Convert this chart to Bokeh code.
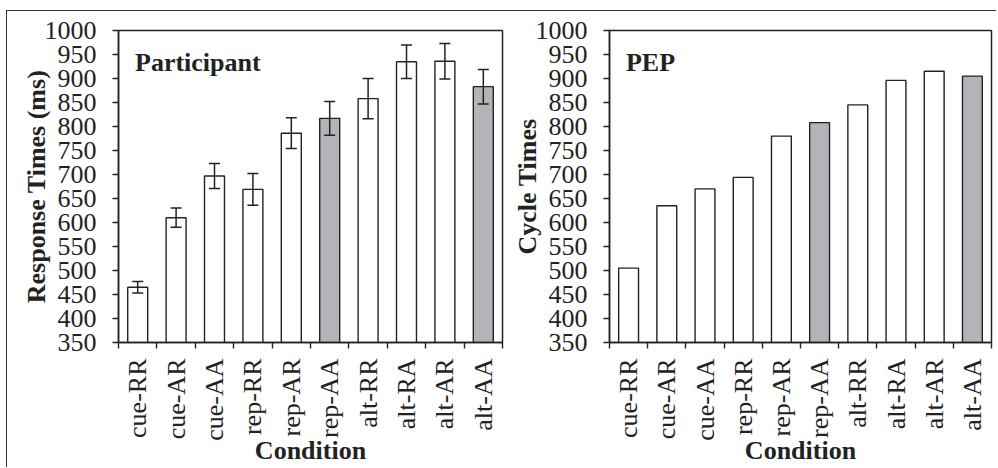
import math
from bokeh.plotting import figure
from bokeh.models import ColumnDataSource, FixedTicker, Whisker, TeeHead, Label, Range1d
from bokeh.layouts import row
from bokeh.embed import file_html
from bokeh.resources import INLINE

categories = ["cue-RR", "cue-AR", "cue-AA", "rep-RR", "rep-AR",
              "rep-AA", "alt-RR", "alt-RA", "alt-AR", "alt-AA"]
participant_rt = [465, 610, 697, 669, 786, 817, 858, 935, 936, 883]
participant_err = [12, 20, 26, 33, 32, 35, 42, 35, 37, 36]
pep_ct = [505, 635, 670, 694, 780, 808, 845, 896, 915, 905]
highlight = ["rep-AA", "alt-AA"]
y_ticks = [350, 400, 450, 500, 550, 600, 650, 700, 750, 800, 850, 900, 950, 1000]

FONT = "Liberation Serif"
INK = "#222222"
GRAY = "#b3b4b7"
FRAME_H = 312
FIG_H = 456
TOP = 19


def make_panel(title, ylabel, values, errs, min_left, min_right):
    n = len(categories)
    xs = [i + 0.5 for i in range(n)]
    colors = [GRAY if c in highlight else "white" for c in categories]
    data = dict(x=xs, top=values, color=colors)
    if errs is not None:
        data["upper"] = [v + e for v, e in zip(values, errs)]
        data["lower"] = [v - e for v, e in zip(values, errs)]
    src = ColumnDataSource(data)

    p = figure(width=min_left + 384 + min_right, height=FIG_H,
               x_range=Range1d(0, n), y_range=Range1d(y_ticks[0], y_ticks[-1]),
               output_backend="svg", toolbar_location=None,
               min_border_left=min_left, min_border_right=min_right,
               min_border_top=TOP, min_border_bottom=FIG_H - TOP - FRAME_H)
    p.xgrid.visible = False
    p.ygrid.visible = False
    p.outline_line_color = INK
    p.outline_line_width = 1.5
    p.background_fill_color = "white"
    p.border_fill_color = "white"

    p.vbar(x="x", top="top", bottom=0, width=0.52, fill_color="color",
           line_color=INK, line_width=1.4, source=src)

    if errs is not None:
        w = Whisker(base="x", upper="upper", lower="lower", source=src,
                    line_color=INK, line_width=1.5, level="annotation",
                    upper_head=TeeHead(size=11, line_color=INK, line_width=1.5),
                    lower_head=TeeHead(size=11, line_color=INK, line_width=1.5))
        p.add_layout(w)

    xa = p.xaxis[0]
    xa.ticker = FixedTicker(ticks=xs, minor_ticks=list(range(n + 1)))
    xa.major_label_overrides = {x: c for x, c in zip(xs, categories)}
    xa.major_label_orientation = math.pi / 2
    xa.major_tick_line_color = None
    xa.major_tick_out = 6
    xa.major_tick_in = 0
    xa.minor_tick_out = 6
    xa.minor_tick_in = 0
    xa.minor_tick_line_color = INK
    xa.minor_tick_line_width = 1.4
    xa.axis_line_color = INK
    xa.axis_line_width = 1.5
    xa.major_label_text_font = FONT
    xa.major_label_text_font_size = "26px"
    xa.major_label_text_color = INK
    xa.major_label_standoff = 10
    xa.axis_label = "Condition"
    xa.axis_label_text_font = FONT
    xa.axis_label_text_font_size = "26px"
    xa.axis_label_text_font_style = "bold"
    xa.axis_label_text_color = INK
    xa.axis_label_standoff = -8

    ya = p.yaxis[0]
    ya.ticker = FixedTicker(ticks=y_ticks, minor_ticks=[])
    ya.major_tick_out = 6
    ya.major_tick_in = 0
    ya.major_tick_line_color = INK
    ya.major_tick_line_width = 1.4
    ya.minor_tick_line_color = None
    ya.axis_line_color = INK
    ya.axis_line_width = 1.5
    ya.major_label_text_font = FONT
    ya.major_label_text_font_size = "26px"
    ya.major_label_text_color = INK
    ya.major_label_standoff = 16
    ya.axis_label = ylabel
    ya.axis_label_text_font = FONT
    ya.axis_label_text_font_size = "26px"
    ya.axis_label_text_font_style = "bold"
    ya.axis_label_text_color = INK
    ya.axis_label_standoff = -9

    # panel title inside the frame (top-left)
    p.add_layout(Label(x=0.43, y=933, text=title, text_font=FONT,
                       text_font_size="26px", text_font_style="bold",
                       text_color=INK, text_baseline="alphabetic"))
    return p


p1 = make_panel("Participant", "Response Times (ms)", participant_rt, participant_err, 111, 7)
p2 = make_panel("PEP", "Cycle Times", pep_ct, None, 98, 5)

layout = row(p1, p2, styles={"border-left": "1px solid #333",
                             "border-top": "1px solid #333",
                             "position": "relative", "left": "6px", "top": "10px"})

open("out.html", "w").write(file_html(layout, INLINE))
